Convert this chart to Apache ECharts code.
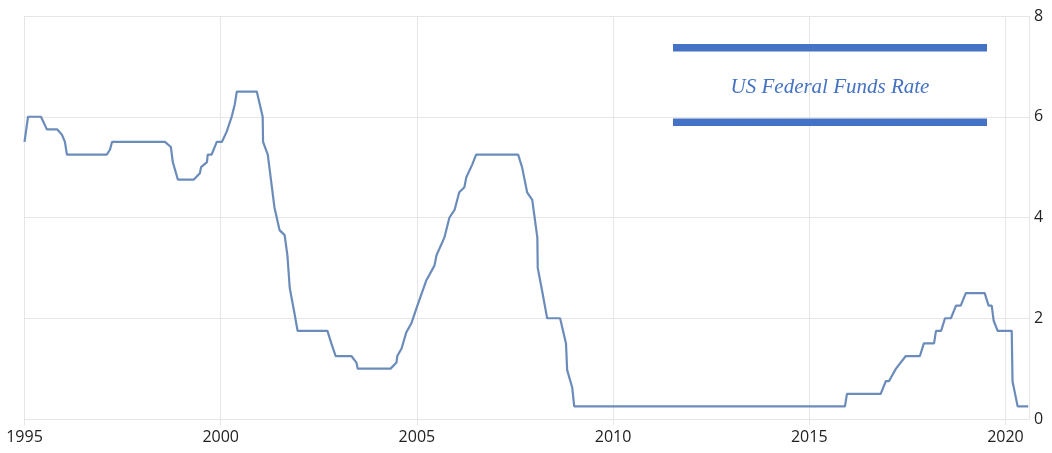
<!DOCTYPE html>
<html>
<head>
<meta charset="utf-8">
<script src="https://cdn.jsdelivr.net/npm/echarts@6/dist/echarts.min.js"></script>
<style>
html,body{margin:0;padding:0;background:#fff;}
#chart{width:1052px;height:453px;}
</style>
</head>
<body>
<div id="chart"></div>
<script>
const titleText = "US Federal Funds Rate";
const xTickLabels = ["1995", "2000", "2005", "2010", "2015", "2020"];
const yTickLabels = ["0", "2", "4", "6", "8"];

const years = [
  1995.00, 1995.09, 1995.42, 1995.57, 1995.83, 1995.95, 1996.03, 1996.08,
  1997.10, 1997.18, 1997.23, 1998.58, 1998.73, 1998.78, 1998.91, 1999.31,
  1999.47, 1999.50, 1999.65, 1999.67, 1999.77, 1999.90, 2000.03, 2000.15,
  2000.28, 2000.36, 2000.41, 2000.92, 2001.07, 2001.08, 2001.20, 2001.37,
  2001.50, 2001.63, 2001.70, 2001.76, 2001.88, 2001.96, 2002.72, 2002.82,
  2002.93, 2003.33, 2003.46, 2003.49, 2004.33, 2004.48, 2004.50, 2004.61,
  2004.73, 2004.86, 2004.99, 2005.24, 2005.45, 2005.50, 2005.70, 2005.83,
  2005.96, 2006.08, 2006.21, 2006.26, 2006.41, 2006.51, 2007.58, 2007.68,
  2007.81, 2007.94, 2008.07, 2008.08, 2008.19, 2008.32, 2008.65, 2008.80,
  2008.83, 2008.96, 2009.01, 2015.91, 2015.96, 2016.82, 2016.95, 2017.03,
  2017.21, 2017.26, 2017.46, 2017.82, 2017.92, 2018.18, 2018.23, 2018.36,
  2018.46, 2018.61, 2018.74, 2018.86, 2018.99, 2019.47, 2019.57, 2019.65,
  2019.70, 2019.80, 2020.16, 2020.18, 2020.31, 2020.58
];
const rates = [
  5.50, 6.00, 6.00, 5.75, 5.75, 5.65, 5.50, 5.25,
  5.25, 5.35, 5.50, 5.50, 5.40, 5.10, 4.75, 4.75,
  4.88, 5.00, 5.10, 5.25, 5.25, 5.50, 5.50, 5.70,
  6.00, 6.25, 6.50, 6.50, 6.00, 5.50, 5.25, 4.20,
  3.75, 3.65, 3.25, 2.60, 2.10, 1.75, 1.75, 1.50,
  1.25, 1.25, 1.12, 1.00, 1.00, 1.12, 1.25, 1.40,
  1.72, 1.90, 2.20, 2.75, 3.05, 3.25, 3.60, 4.00,
  4.15, 4.50, 4.60, 4.80, 5.05, 5.25, 5.25, 5.00,
  4.50, 4.35, 3.60, 3.00, 2.55, 2.00, 2.00, 1.50,
  0.97, 0.62, 0.25, 0.25, 0.50, 0.50, 0.75, 0.75,
  1.00, 1.00, 1.25, 1.25, 1.50, 1.50, 1.75, 1.75,
  2.00, 2.00, 2.25, 2.25, 2.50, 2.50, 2.25, 2.25,
  1.95, 1.75, 1.75, 0.75, 0.25, 0.25
];

const seriesData = years.map((y, i) => [y, rates[i]]);

const chart = echarts.init(document.getElementById('chart'), null, {renderer: 'canvas'});
const gridColor = '#e6e6e6';
const blue = '#4472C4';

chart.setOption({
  animation: false,
  backgroundColor: '#ffffff',
  grid: {left: 24.5, right: 23, top: 16, bottom: 34, containLabel: false},
  xAxis: {
    type: 'value',
    min: 1995,
    max: 2020.6,
    interval: 5,
    axisLine: {show: true, lineStyle: {color: gridColor, width: 1}},
    axisTick: {show: true, length: 6, lineStyle: {color: gridColor}},
    axisLabel: {
      color: '#222', fontSize: 16, fontFamily: 'Open Sans', margin: 10,
      showMaxLabel: false,
      formatter: v => {
        const idx = Math.round((v - 1995) / 5);
        return xTickLabels[idx] !== undefined ? xTickLabels[idx] : '';
      }
    },
    splitLine: {show: true, lineStyle: {color: gridColor, width: 1}}
  },
  yAxis: {
    type: 'value',
    position: 'right',
    min: 0,
    max: 8,
    interval: 2,
    axisLine: {show: false},
    axisTick: {show: false},
    axisLabel: {
      color: '#222', fontSize: 16, fontFamily: 'Open Sans', margin: 5,
      formatter: v => yTickLabels[Math.round(v / 2)]
    },
    splitLine: {show: true, lineStyle: {color: gridColor, width: 1}}
  },
  series: [{
    type: 'line',
    data: seriesData,
    showSymbol: false,
    symbol: 'none',
    lineStyle: {color: '#6b8cba', width: 2.2},
    clip: true
  }],
  graphic: [
    {type: 'rect', z: 100, shape: {x: 673, y: 44, width: 314, height: 7.5}, style: {fill: blue}},
    {type: 'rect', z: 100, shape: {x: 673, y: 118.5, width: 314, height: 7.5}, style: {fill: blue}},
    {type: 'text', z: 100, x: 830, y: 87,
     style: {text: titleText, fill: blue, font: 'italic 21px "Liberation Serif", "DejaVu Serif", serif',
             align: 'center', verticalAlign: 'middle'}}
  ]
});
</script>
</body>
</html>
